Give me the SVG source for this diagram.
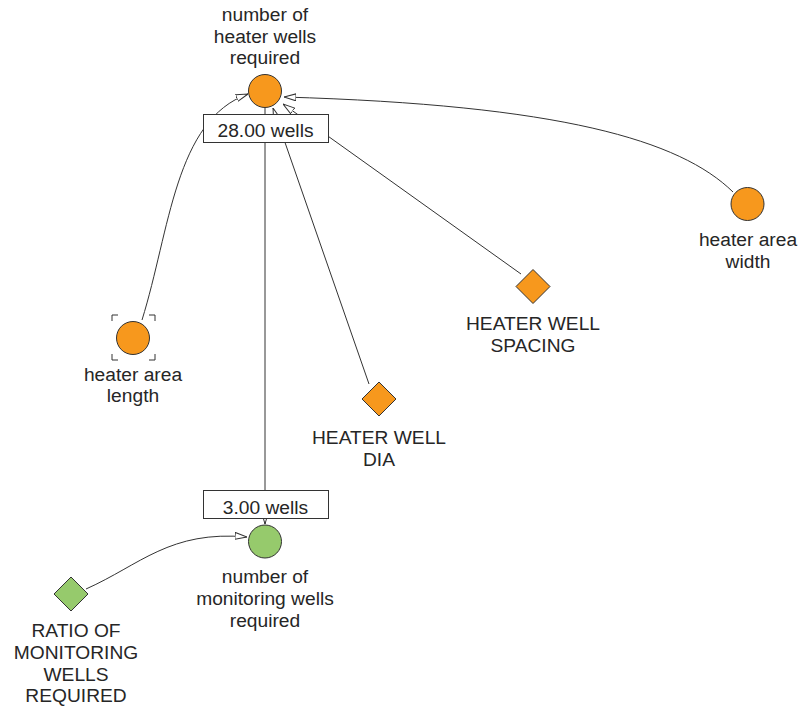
<svg xmlns="http://www.w3.org/2000/svg" width="798" height="706" viewBox="0 0 798 706">
  <style>
    text { font-family: "Liberation Sans", Arial, sans-serif; font-size: 19.2px; fill: #262626; text-anchor: middle; }
    .link { fill: none; stroke: #333; stroke-width: 1; }
    .stock { fill: #f7981d; stroke: #333; stroke-width: 1; }
    .mon { fill: #96ca6c; stroke: #333; stroke-width: 1; }
    .box { fill: #fff; stroke: #333; stroke-width: 1; }
    .bracket { fill: none; stroke: #333; stroke-width: 1; }
  </style>
  <defs>
    <marker id="open-arrow" viewBox="0 0 12 8" refX="12" refY="4" markerWidth="12" markerHeight="8" markerUnits="userSpaceOnUse" orient="auto">
      <path d="M0,0.5 L12,4 L0,7.5 Z" fill="#fff" stroke="#333" stroke-width="1"/>
    </marker>
  </defs>

  <!-- connectors -->
  <g id="connectors">
    <path class="link" d="M142,320 C170,230 175,120 248,94" marker-end="url(#open-arrow)"/>
    <path class="link" d="M369,384 L273,108" marker-end="url(#open-arrow)"/>
    <path class="link" d="M521,274 L283,104" marker-end="url(#open-arrow)"/>
    <path class="link" d="M733,192 C680,140 560,105 284,97" marker-end="url(#open-arrow)"/>
    <path class="link" d="M265,108 L265,524" marker-end="url(#open-arrow)"/>
    <path class="link" d="M86,589 C140,565 170,530 247,537" marker-end="url(#open-arrow)"/>
  </g>

  <!-- number of heater wells required -->
  <g id="heater-wells">
    <text x="265" y="21">number of</text>
    <text x="265" y="43">heater wells</text>
    <text x="265" y="64">required</text>
    <circle class="stock" cx="265" cy="91" r="16.5"/>
    <rect class="box" x="203.5" y="114.5" width="125" height="28"/>
    <text x="265.5" y="137">28.00 wells</text>
  </g>

  <!-- heater area width -->
  <g id="heater-area-width">
    <circle class="stock" cx="747.5" cy="204" r="16.5"/>
    <text x="748" y="246">heater area</text>
    <text x="748" y="268">width</text>
  </g>

  <!-- heater area length -->
  <g id="heater-area-length">
    <path class="bracket" d="M112,321 V315 H118 M149,315 H155 V321 M155,354 V360 H149 M118,360 H112 V354"/>
    <circle class="stock" cx="133" cy="338" r="16.5"/>
    <text x="133" y="381">heater area</text>
    <text x="133" y="402">length</text>
  </g>

  <!-- HEATER WELL SPACING -->
  <g id="heater-well-spacing">
    <path class="stock" d="M533,269.5 L550,286.5 L533,303.5 L516,286.5 Z"/>
    <text x="533" y="330">HEATER WELL</text>
    <text x="533" y="352">SPACING</text>
  </g>

  <!-- HEATER WELL DIA -->
  <g id="heater-well-dia">
    <path class="stock" d="M379,382 L396,399 L379,416 L362,399 Z"/>
    <text x="379" y="444">HEATER WELL</text>
    <text x="379" y="466">DIA</text>
  </g>

  <!-- number of monitoring wells required -->
  <g id="monitoring-wells">
    <rect class="box" x="203.5" y="490.5" width="125" height="28"/>
    <text x="265.5" y="514">3.00 wells</text>
    <circle class="mon" cx="265" cy="541.5" r="16.5"/>
    <text x="265" y="583">number of</text>
    <text x="265" y="605">monitoring wells</text>
    <text x="265" y="627">required</text>
  </g>

  <!-- RATIO OF MONITORING WELLS REQUIRED -->
  <g id="ratio-monitoring">
    <path class="mon" d="M71,577 L88,594 L71,611 L54,594 Z"/>
    <text x="76" y="637">RATIO OF</text>
    <text x="76" y="659">MONITORING</text>
    <text x="76" y="681">WELLS</text>
    <text x="76" y="702">REQUIRED</text>
  </g>
</svg>
